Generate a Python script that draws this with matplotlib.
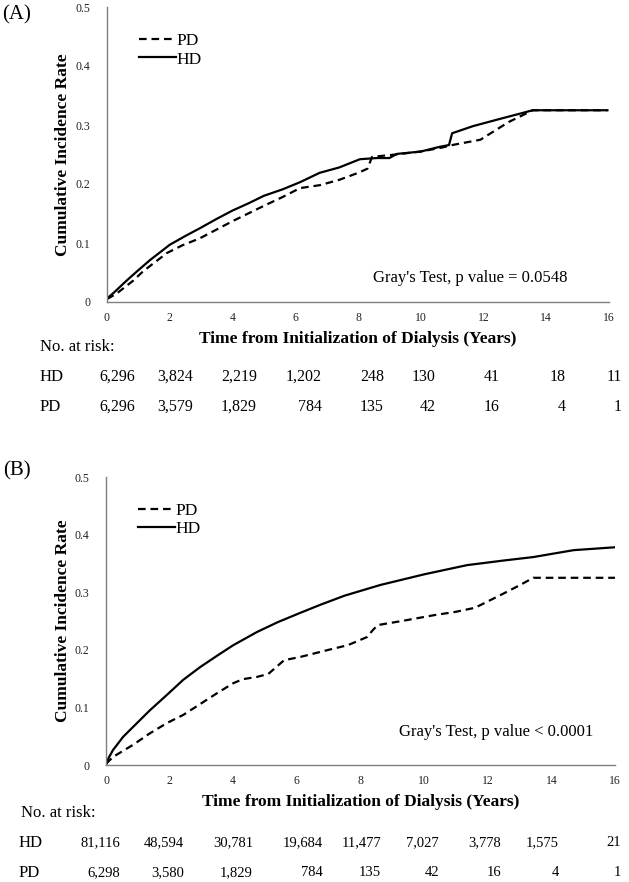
import matplotlib
matplotlib.use("Agg")
import matplotlib.pyplot as plt
import numpy as np

plt.rcParams['font.family'] = ['Liberation Serif', 'DejaVu Serif']
plt.rcParams['lines.scale_dashes'] = False

# ---------------- data ----------------
years_ticks = [0, 2, 4, 6, 8, 10, 12, 14, 16]
y_ticks = [0, 0.1, 0.2, 0.3, 0.4, 0.5]
y_tick_labels = ["0", "0.1", "0.2", "0.3", "0.4", "0.5"]

# Panel A
a_hd_t = [0, 0.2, 0.64, 1.0, 1.37, 2.0, 2.5, 2.96, 3.5, 4.0, 4.5, 5.0, 5.6, 6.15, 6.78, 7.4, 8.06, 8.6, 9.0, 9.24, 10.0, 10.6, 10.9, 11.0, 11.66, 12.5, 13.57, 15.95]
a_hd_v = [0.006, 0.015, 0.037, 0.054, 0.071, 0.097, 0.112, 0.125, 0.141, 0.155, 0.167, 0.18, 0.191, 0.203, 0.219, 0.228, 0.242, 0.244, 0.244, 0.251, 0.255, 0.263, 0.266, 0.286, 0.298, 0.31, 0.325, 0.325]
a_pd_t = [0, 0.3, 0.83, 1.15, 1.91, 2.4, 2.96, 3.5, 4.0, 4.5, 5.0, 5.6, 6.15, 6.78, 7.4, 8.06, 8.3, 8.45, 9.2, 10.0, 10.7, 11.0, 11.9, 12.8, 13.57, 15.95]
a_pd_v = [0.005, 0.014, 0.036, 0.052, 0.083, 0.096, 0.108, 0.123, 0.137, 0.15, 0.163, 0.178, 0.193, 0.198, 0.207, 0.22, 0.226, 0.246, 0.25, 0.255, 0.262, 0.266, 0.275, 0.305, 0.325, 0.325]
a_risk_hd = ["6,296", "3,824", "2,219", "1,202", "248", "130", "41", "18", "11"]
a_risk_pd = ["6,296", "3,579", "1,829", "784", "135", "42", "16", "4", "1"]
a_test = "Gray's Test, p value = 0.0548"

# Panel B
b_hd_t = [0, 0.08, 0.22, 0.54, 0.85, 1.38, 1.92, 2.43, 2.96, 3.5, 4.0, 4.75, 5.4, 6.1, 6.73, 7.5, 8.62, 10.0, 11.35, 12.5, 13.43, 14.7, 16.0]
b_hd_v = [0.0, 0.012, 0.026, 0.049, 0.066, 0.095, 0.122, 0.148, 0.17, 0.19, 0.208, 0.231, 0.248, 0.264, 0.278, 0.294, 0.3125, 0.331, 0.347, 0.355, 0.361, 0.373, 0.378]
b_pd_t = [0, 0.22, 0.85, 1.38, 1.92, 2.43, 3.05, 3.5, 4.0, 4.3, 4.75, 5.1, 5.6, 6.1, 7.0, 7.6, 8.2, 8.4, 8.55, 9.3, 10.3, 11.0, 11.6, 12.4, 13.0, 13.43, 16.0]
b_pd_v = [0.002, 0.014, 0.035, 0.055, 0.073, 0.087, 0.109, 0.125, 0.142, 0.149, 0.153, 0.158, 0.182, 0.1875, 0.2, 0.208, 0.222, 0.235, 0.243, 0.25, 0.26, 0.266, 0.273, 0.295, 0.312, 0.325, 0.325]
b_risk_hd = ["81,116", "48,594", "30,781", "19,684", "11,477", "7,027", "3,778", "1,575", "21"]
b_risk_pd = ["6,298", "3,580", "1,829", "784", "135", "42", "16", "4", "1"]
b_test = "Gray's Test, p value < 0.0001"

# ---------------- layout ----------------
W, H = 629, 882
fig = plt.figure(figsize=(W / 100, H / 100), dpi=100)


def fx(px):
    return px / W


def fy(py):
    return 1 - py / H


def make_panel(left, right, top, bottom, hd_t, hd_v, pd_t, pd_v, letter, letter_y,
               test, test_xy, xlab_y, norisk_xy, row_ys, label_x, col_right, risk_hd, risk_pd, risk_fs):
    ax = fig.add_axes([fx(left), fy(bottom), fx(right) - fx(left), fy(top) - fy(bottom)])
    ax.plot(pd_t, pd_v, color='black', lw=1.6, linestyle=(0, (5.5, 3.5)), label='PD')
    ax.plot(hd_t, hd_v, color='black', lw=1.6, label='HD')
    ax.set_xlim(0, 16)
    ax.set_ylim(0, 0.5)
    ax.set_xticks(years_ticks)
    ax.set_xticklabels([str(v) for v in years_ticks])
    ax.set_yticks(y_ticks)
    ax.set_yticklabels(y_tick_labels)
    ax.tick_params(length=0, labelsize=8.5, colors='#222222')
    ax.tick_params(axis='x', pad=7)
    ax.tick_params(axis='y', pad=12)
    for s in ['top', 'right']:
        ax.spines[s].set_visible(False)
    for s in ['left', 'bottom']:
        ax.spines[s].set_color('#7f7f7f')
        ax.spines[s].set_linewidth(1.0)
    ax.set_facecolor('none')
    ax.legend(loc='upper left', bbox_to_anchor=(0.05, 0.935), frameon=False,
              handlelength=2.1, handletextpad=0.05, labelspacing=0.12,
              fontsize=12.5, borderaxespad=0)
    # texts
    fig.text(fx(17), fy(letter_y), letter, fontsize=15, ha='center', va='center')
    fig.text(fx(63), fy((top + bottom) / 2), "Cumulative Incidence Rate", rotation=90,
             fontsize=12.5, fontweight='bold', ha='center', va='center')
    fig.text(fx(test_xy[0]), fy(test_xy[1]), test, fontsize=12, ha='center', va='center')
    fig.text(fx((left + right) / 2), fy(xlab_y), "Time from Initialization of Dialysis (Years)",
             fontsize=12.5, fontweight='bold', ha='center', va='center')
    fig.text(fx(norisk_xy[0]), fy(norisk_xy[1]), "No. at risk:", fontsize=12, ha='left', va='center')
    for name, vals, yy in [("HD", risk_hd, row_ys[0]), ("PD", risk_pd, row_ys[1])]:
        fig.text(fx(label_x), fy(yy), name, fontsize=12, ha='left', va='center')
        for v, xr in zip(vals, col_right):
            fig.text(fx(xr), fy(yy), v, fontsize=risk_fs, ha='right', va='center')
    return ax


make_panel(107, 609, 7, 302, a_hd_t, a_hd_v, a_pd_t, a_pd_v, "(A)", 15,
           a_test, (470, 278), 339, (40, 347), (377, 407), 40,
           [135, 193, 257, 322, 384, 436, 500, 566, 622], a_risk_hd, a_risk_pd, 11.5)

make_panel(106, 615, 477, 765, b_hd_t, b_hd_v, b_pd_t, b_pd_v, "(B)", 471,
           b_test, (496, 732), 802, (21, 813), (843, 873), 19,
           [120, 184, 253, 323, 381, 439, 501, 559, 621], b_risk_hd, b_risk_pd, 10.5)

fig.savefig("out.png", dpi=100, facecolor='white')
